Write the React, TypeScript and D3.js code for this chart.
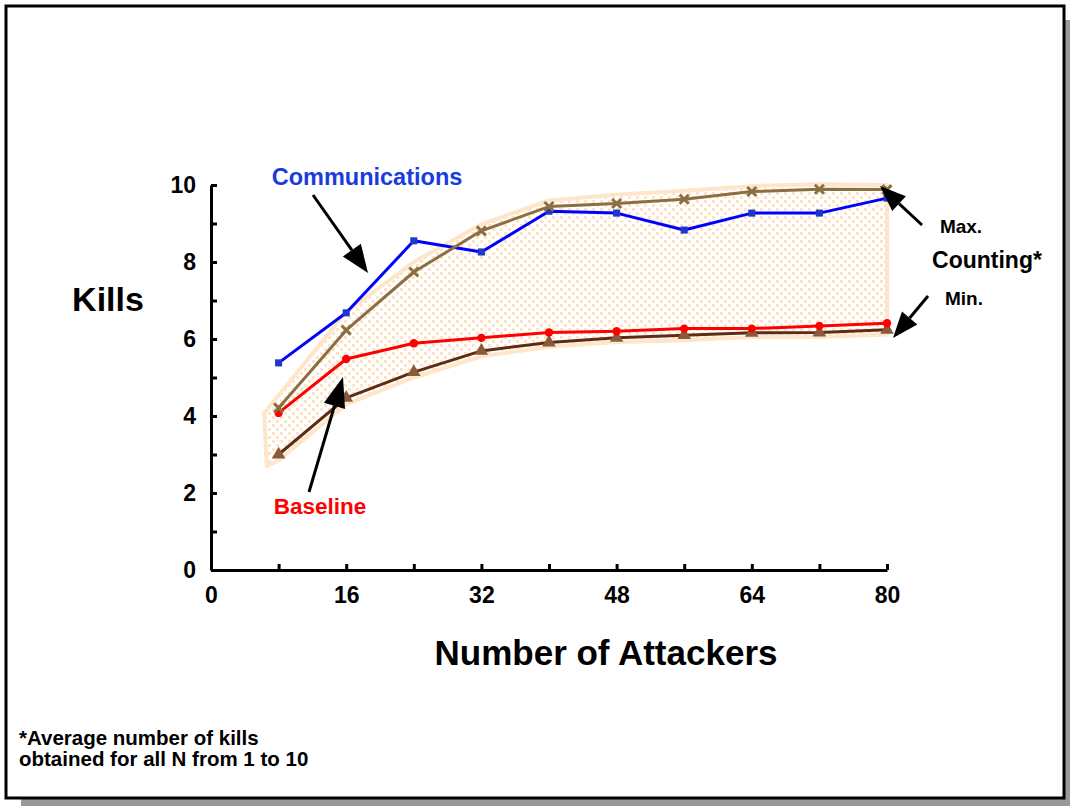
import React, { useEffect, useRef } from 'react';
import * as d3 from 'd3';

// number of attackers on the x axis
const attackers = [8, 16, 24, 32, 40, 48, 56, 64, 72, 80];
const communications = [5.38, 6.68, 8.55, 8.26, 9.32, 9.27, 8.83, 9.27, 9.27, 9.66];
const maxCounting = [4.21, 6.23, 7.74, 8.81, 9.44, 9.52, 9.63, 9.83, 9.89, 9.88];
const baseline = [4.08, 5.48, 5.89, 6.03, 6.17, 6.2, 6.27, 6.27, 6.34, 6.41];
const minCounting = [3.0, 4.47, 5.14, 5.69, 5.91, 6.03, 6.1, 6.16, 6.17, 6.24];

// shaded "Counting*" band (hand drawn envelope)
const bandX = [6.3, 16, 24, 32, 40, 48, 56, 64, 72, 80];
const bandUpper = [4.08, 6.7, 8.0, 8.98, 9.6, 9.75, 9.85, 9.97, 10.02, 10.0];
const bandLowerX = [80, 72, 64, 56, 48, 40, 32, 24, 16, 8, 6.6];
const bandLower = [6.12, 6.05, 6.05, 5.97, 5.92, 5.8, 5.55, 5.0, 4.3, 2.85, 2.7];

const yTicks = [0, 1, 2, 3, 4, 5, 6, 7, 8, 9, 10];
const xTicks = [0, 8, 16, 24, 32, 40, 48, 56, 64, 72, 80];
const xLabels = [0, 16, 32, 48, 64, 80];

const FONT = '"Liberation Sans", Arial, Helvetica, sans-serif';

const App: React.FC = () => {
    const ref = useRef<SVGSVGElement>(null);

    useEffect(() => {
        const svg = d3.select(ref.current);
        svg.selectAll('*').remove();

        const x = d3.scaleLinear().domain([0, 80]).range([211, 887]);
        const y = d3.scaleLinear().domain([0, 10]).range([570, 185]);

        // frame with drop shadow
        svg.append('rect').attr('x', 21).attr('y', 20).attr('width', 1049).attr('height', 786).attr('fill', '#999');
        svg.append('rect').attr('x', 6).attr('y', 6).attr('width', 1058).attr('height', 792)
            .attr('fill', 'white').attr('stroke', 'black').attr('stroke-width', 3);

        // dotted fill pattern
        const defs = svg.append('defs');
        const pat = defs.append('pattern').attr('id', 'dots').attr('patternUnits', 'userSpaceOnUse')
            .attr('width', 8).attr('height', 8);
        pat.append('rect').attr('width', 8).attr('height', 8).attr('fill', '#ffffff');
        pat.append('rect').attr('x', 0).attr('y', 0).attr('width', 3).attr('height', 3).attr('fill', '#fee4c4');
        pat.append('rect').attr('x', 4).attr('y', 4).attr('width', 3).attr('height', 3).attr('fill', '#fee4c4');

        const bandPts: [number, number][] = [
            ...bandX.map((d, i) => [x(d), y(bandUpper[i])] as [number, number]),
            ...bandLowerX.map((d, i) => [x(d), y(bandLower[i])] as [number, number]),
        ];
        svg.append('path')
            .attr('d', 'M' + bandPts.map((p) => p.join(',')).join('L') + 'Z')
            .attr('fill', 'url(#dots)')
            .attr('stroke', '#fde6c9')
            .attr('stroke-width', 4)
            .attr('stroke-linejoin', 'round');

        // axes
        const yAxis = d3.axisLeft(y).tickValues(yTicks).tickSizeInner(-6).tickSizeOuter(0).tickPadding(15)
            .tickFormat((d) => ((d as number) % 2 === 0 ? String(d) : ''));
        const gy = svg.append('g').attr('transform', 'translate(211,0)').call(yAxis);
        const xAxis = d3.axisBottom(x).tickValues(xTicks).tickSizeInner(-6).tickSizeOuter(0).tickPadding(17)
            .tickFormat((d) => (xLabels.includes(d as number) ? String(d) : ''));
        const gx = svg.append('g').attr('transform', 'translate(0,570)').call(xAxis);
        [gx, gy].forEach((g) => {
            g.select('.domain').attr('stroke', 'black').attr('stroke-width', 3);
            g.selectAll('.tick line').attr('stroke', 'black').attr('stroke-width', 3);
            g.selectAll('.tick text').attr('fill', 'black').attr('font-family', FONT)
                .attr('font-weight', 'bold').attr('font-size', 23);
        });

        const line = d3.line<number>().x((_, i) => x(attackers[i])).y((d) => y(d));

        const drawSeries = (vals: number[], color: string, markerColor: string, symbol: d3.SymbolType | 'x', size: number, width = 3) => {
            svg.append('path').attr('d', line(vals)!).attr('fill', 'none').attr('stroke', color)
                .attr('stroke-width', width).attr('stroke-linejoin', 'round');
            vals.forEach((v, i) => {
                const cx = x(attackers[i]);
                const cy = y(v);
                if (symbol === 'x') {
                    const s = size;
                    svg.append('path').attr('d', `M${cx - s},${cy - s}L${cx + s},${cy + s}M${cx - s},${cy + s}L${cx + s},${cy - s}`)
                        .attr('stroke', markerColor).attr('stroke-width', 3);
                } else {
                    svg.append('path').attr('d', d3.symbol(symbol, size)()!)
                        .attr('transform', `translate(${cx},${cy})`).attr('fill', markerColor);
                }
            });
        };

        drawSeries(minCounting, '#5e2c14', '#8a5b3b', d3.symbolTriangle, 80);
        drawSeries(baseline, '#ff0000', '#ff0000', d3.symbolCircle, 55);
        drawSeries(communications, '#0000ff', '#2038c8', d3.symbolSquare, 50);
        drawSeries(maxCounting, '#8c6f40', '#8c6f40', 'x', 4.5);

        // arrows
        const arrow = (x1: number, y1: number, x2: number, y2: number, len: number, half: number) => {
            const a = Math.atan2(y2 - y1, x2 - x1);
            const bx = x2 - len * Math.cos(a);
            const by = y2 - len * Math.sin(a);
            const px = -Math.sin(a) * half;
            const py = Math.cos(a) * half;
            svg.append('line').attr('x1', x1).attr('y1', y1).attr('x2', bx).attr('y2', by)
                .attr('stroke', 'black').attr('stroke-width', 3);
            svg.append('path').attr('d', `M${x2},${y2}L${bx + px},${by + py}L${bx - px},${by - py}Z`).attr('fill', 'black');
        };
        arrow(313, 195, 368, 273, 28, 11);
        arrow(309, 492, 343, 377, 30, 11);
        arrow(922, 225, 880, 186, 26, 10);
        arrow(928, 296, 893, 338, 26, 10);

        // texts
        const text = (t: string, tx: number, ty: number, size: number, color = 'black', anchor = 'middle') =>
            svg.append('text').attr('x', tx).attr('y', ty).attr('font-family', FONT).attr('font-weight', 'bold')
                .attr('font-size', size).attr('fill', color).attr('text-anchor', anchor).text(t);

        text('Communications', 367, 185, 23.5, '#1a3be0');
        text('Baseline', 320, 514, 22.5, '#ff0000');
        text('Kills', 108, 311, 34);
        text('Number of Attackers', 606, 665, 35);
        text('Max.', 961, 233, 19);
        text('Counting*', 987, 268, 23);
        text('Min.', 964, 305, 19);
        text('*Average number of kills', 19, 745, 20.5, 'black', 'start');
        text('obtained for all N from 1 to 10', 19, 766, 20.5, 'black', 'start');
    }, []);

    return <svg ref={ref} width={1070} height={806} style={{ position: 'absolute', left: 0, top: 0 }} />;
};

export default App;
